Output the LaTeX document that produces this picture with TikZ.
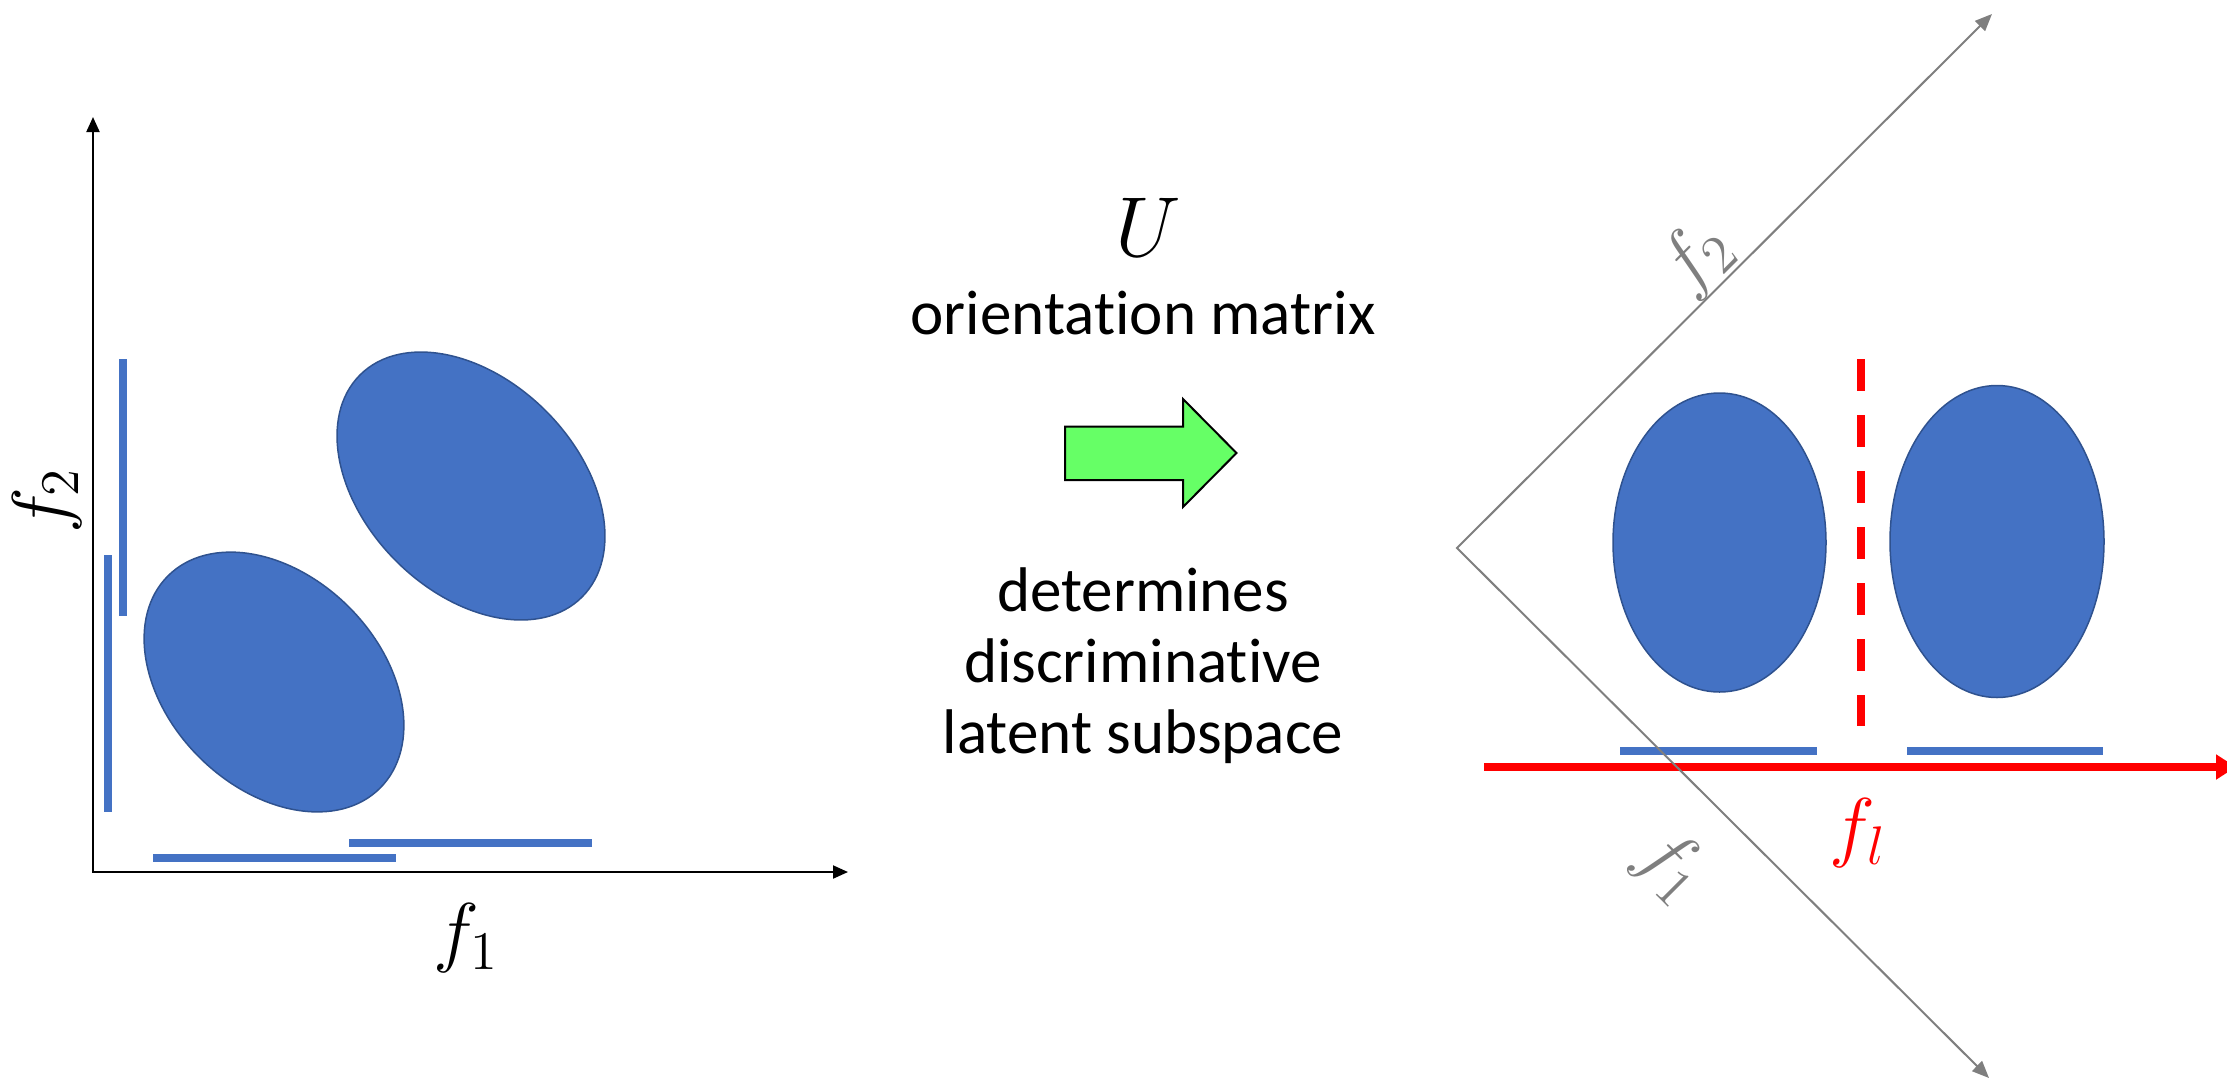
\RequirePackage{fix-cm}
\documentclass[tikz,border=0pt]{standalone}
\usepackage{fontspec}
\setmainfont{Carlito}[Ligatures={NoCommon}]
\usetikzlibrary{arrows.meta}
\definecolor{dblue}{HTML}{4472C4}
\definecolor{dedge}{HTML}{2F528F}
\definecolor{lgreen}{HTML}{66FF66}
\definecolor{axgray}{HTML}{7F7F7F}
\begin{document}
\begin{tikzpicture}[x=0.01cm,y=-0.01cm,
  axisline/.style={line width=0.02cm, {Triangle[length=0.15cm,width=0.13cm]}-{Triangle[length=0.15cm,width=0.13cm]}},
  grayaxis/.style={draw=axgray, line width=0.02cm, {Triangle[length=0.17cm,width=0.14cm]}-{Triangle[length=0.17cm,width=0.14cm]}},
  blob/.style={fill=dblue, draw=dedge, line width=0.015cm},
  bar/.style={draw=dblue, line width=0.08cm},
  txt/.style={font=\fontsize{17.93pt}{20.06pt}\selectfont, inner sep=0pt, anchor=base, align=center},
  mlabel/.style={font=\fontsize{22.1pt}{24pt}\selectfont, inner sep=0pt},
  redline/.style={draw=red, line width=0.08cm}]
\useasboundingbox (0,0) rectangle (2227,1081);

% ---------- left panel ----------
\coordinate (O) at (93,872);
\coordinate (ytip) at (93,117);
\coordinate (xtip) at (848,872);

\draw[blob, rotate around={-45:(274,682)}] (274,682) ellipse [x radius=150, y radius=106];
\draw[blob, rotate around={-45:(471,486)}] (471,486) ellipse [x radius=157, y radius=106];

\draw[bar] (108,555) -- (108,812);
\draw[bar] (123,359) -- (123,616);
\draw[bar] (153,857.5) -- (396,857.5);
\draw[bar] (349,842.5) -- (592,842.5);

\draw[axisline] (ytip) -- (O) -- (xtip);

\node[mlabel] (lf1) at (466,938) {$f_1$};
\node[mlabel, rotate=90] (lf2) at (47,501) {$f_2$};

% ---------- middle ----------
\node[font=\fontsize{24.2pt}{26pt}\selectfont, inner sep=0pt, anchor=base] (U) at (1148,256) {$U$};
\node[txt] (om) at (1143,334.5) {orientation matrix};
\draw[fill=lgreen, draw=black, line width=0.02cm]
  (1065,426.5) -- (1183,426.5) -- (1183,399) -- (1236.5,453) -- (1183,507) -- (1183,480) -- (1065,480) -- cycle;
\node[txt] (desc) at (1143,753) {determines\\discriminative\\latent subspace};

% ---------- right panel ----------
\coordinate (V) at (1457,548);
\coordinate (gtop) at (1992,14);
\coordinate (gbot) at (1989,1078);
\coordinate (rs) at (1484,767);
\coordinate (re) at (2236,767);

\draw[blob] (1719.5,542.5) ellipse [x radius=106.5, y radius=149.5];
\draw[blob] (1997,541.5) ellipse [x radius=107, y radius=156];

\draw[redline, dash pattern=on 0.32cm off 0.24cm] (1861,359) -- (1861,726);
\draw[bar] (1620,751) -- (1817,751);
\draw[bar] (1907,751) -- (2103,751);
\draw[redline, -{Triangle[length=0.2cm,width=0.24cm]}] (rs) -- (re);

\draw[grayaxis] (gtop) -- (V) -- (gbot);

\node[mlabel, text=axgray, rotate=45] (rf2) at (1697,258) {$f_2$};
\node[mlabel, text=axgray, rotate=-45] (rf1) at (1671,866) {$f_1$};
\node[mlabel, text=red] (fl) at (1858,833) {$f_l$};
\end{tikzpicture}
\end{document}
